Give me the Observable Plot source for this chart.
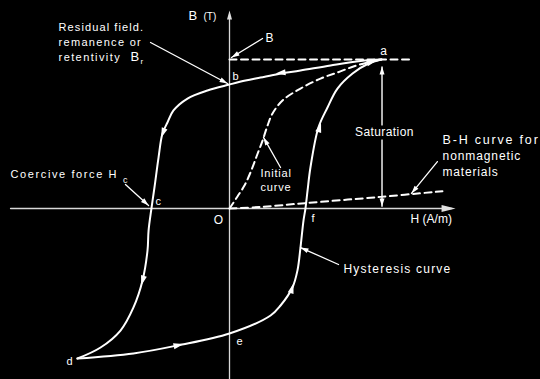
<!DOCTYPE html>
<html><head><meta charset="utf-8">
<script src="https://cdn.jsdelivr.net/npm/d3@7"></script>
<script src="https://cdn.jsdelivr.net/npm/@observablehq/plot@0.6"></script>
<style>
html,body{margin:0;padding:0;background:#000;}
</style></head><body><div id="chart"></div>
<script>
// Hysteresis loop, upper (descending) branch a -> b -> c -> d
const upperH = [100.7, 86.8, 66.9, 47.0, 32.5, 20.5, 10.6, 0, -14.6, -27.8, -37.1, -41.1, -44.4, -47.0, -49.7, -51.7, -53.6, -54.3, -57.6, -63.6, -72.2, -85.4, -100.7];
const upperB = [100, 99.0, 96.0, 92.6, 90.3, 87.9, 85.9, 83.2, 79.2, 73.8, 65.8, 57.7, 50.3, 34.2, 14.1, 0, -14.8, -28.2, -48.3, -66.4, -81.9, -93.3, -100.7];
// lower (ascending) branch d -> e -> f -> a
const lowerH = [-100.7, -63.6, -34.4, 0, 27.2, 33.8, 41.7, 45.0, 47.0, 49.0, 50.3, 51.7, 53.6, 58.9, 64.9, 71.5, 81.5, 92.1, 100.7];
const lowerB = [-100.7, -97.3, -91.9, -83.9, -71.8, -65.1, -53.0, -41.6, -26.2, -8.1, 0, 12.1, 27.5, 54.4, 67.8, 80.5, 90.6, 97.3, 100];
// initial magnetisation curve O -> a
const initH = [0, 5.3, 9.9, 13.9, 17.9, 21.9, 25.2, 28.5, 35.1, 47.0, 60.3, 71.5, 82.1, 91.4, 100.7];
const initB = [0, 8.1, 15.4, 24.2, 34.9, 45.6, 55.7, 63.8, 72.5, 80.5, 87.2, 91.3, 95.3, 98.0, 100];
// B-H curve for nonmagnetic materials
const nonmagH = [0, 20, 50, 100, 141];
const nonmagB = [0, 1.0, 3.6, 7.8, 11.6];
// saturation level
const satH = 101, satB = 100;
const pointLabels = ["a", "b", "c", "d", "e", "f", "O"];

const W = 540, HT = 379;
const xDomain = [-151.66, 205.96], yDomain = [-114.77, 139.6];
const kx = W / (xDomain[1] - xDomain[0]), ky = HT / (yDomain[1] - yDomain[0]);
const zip = (h, b) => h.map((v, i) => ({H: v, B: b[i]}));
const seg = (a, b) => [{H: a[0], B: a[1]}, {H: b[0], B: b[1]}];

function head(from, to, L, w, fill = "white") {
  const dx = (to[0] - from[0]) * kx, dy = -(to[1] - from[1]) * ky;
  const a = Math.atan2(dy, dx), ux = Math.cos(a), uy = Math.sin(a);
  const sym = {draw(ctx) {
    const bx = -ux * L, by = -uy * L, px = -uy * w / 2, py = ux * w / 2;
    ctx.moveTo(0, 0); ctx.lineTo(bx + px, by + py); ctx.lineTo(bx - px, by - py); ctx.closePath();
  }};
  return Plot.dot([{H: to[0], B: to[1]}], {x: "H", y: "B", symbol: sym, fill, r: 5});
}
function leader(from, to, L = 8, w = 5) {
  return [
    Plot.line(seg(from, to), {x: "H", y: "B", stroke: "white", strokeWidth: 1.3}),
    head(from, to, L, w)
  ];
}
const FONT = "Liberation Sans, Arial, sans-serif";
function label(text, H, B, size, anchor = "start", extra = {}) {
  return Plot.text([{H, B, t: text}], {x: "H", y: "B", text: "t", fill: "white", fontSize: size, textAnchor: anchor, fontFamily: FONT, ...extra});
}

const spacing = {"Residual field.": 1.1, "remanence or": 1.3, "retentivity": 1.4, "Coercive force H": 1.6,
  "B-H curve for": 1.8, "nonmagnetic": 0.9, "materials": 0.8, "Saturation": 0.4, "Hysteresis curve": 1.2, "Initial": 0.8, "curve": 0.8};

const svg = Plot.plot({
  width: W, height: HT, margin: 0,
  x: {domain: xDomain, axis: null},
  y: {domain: yDomain, axis: null},
  style: {background: "black", color: "white", fontFamily: FONT},
  marks: [
    // axes
    Plot.line(seg([-145, 0], [147, 0]), {x: "H", y: "B", stroke: "#d8d8d8", strokeWidth: 1.3}),
    head([0, 0], [149.7, 0], 14, 7, "#e0e0e0"),
    Plot.line(seg([0, -114.8], [0, 130]), {x: "H", y: "B", stroke: "#d8d8d8", strokeWidth: 1.3}),
    head([0, 0], [0, 132.9], 9, 5, "#e0e0e0"),
    // dashed lines
    Plot.line(seg([0, satB], [120, satB]), {x: "H", y: "B", stroke: "white", strokeWidth: 2, strokeDasharray: "7,4.5"}),
    Plot.line(zip(initH, initB), {x: "H", y: "B", stroke: "white", strokeWidth: 2, strokeDasharray: "7,4.5", curve: "catmull-rom"}),
    Plot.line(zip(nonmagH, nonmagB), {x: "H", y: "B", stroke: "white", strokeWidth: 2, strokeDasharray: "7,4.5", curve: "catmull-rom"}),
    // hysteresis loop
    Plot.line(zip(upperH, upperB), {x: "H", y: "B", stroke: "white", strokeWidth: 2, curve: "catmull-rom"}),
    Plot.line(zip(lowerH, lowerB), {x: "H", y: "B", stroke: "white", strokeWidth: 2, curve: "catmull-rom"}),
    head([38.4, 91.6], [30.5, 90.6], 10, 6),
    head([-42.5, 55], [-45.3, 47.5], 10, 6),
    head([-56.3, -44], [-58.5, -51.7], 10, 6),
    head([-37.7, -92.6], [-30.5, -90.9], 10, 6),
    head([40.4, -57.0], [42.4, -50.3], 10, 6),
    head([58.9, 51.7], [60.6, 57.7], 10, 6),
    head([90.7, 97.3], [97.4, 99.3], 10, 6),
    // saturation double arrow
    Plot.line(seg([satH, 1.5], [satH, 95]), {x: "H", y: "B", stroke: "white", strokeWidth: 1.4}),
    head([satH, 50], [satH, 95.3], 8, 5),
    head([satH, 50], [satH, 1.3], 8, 5),
    label("Saturation", 102.6, 51.0, 12, "middle", {stroke: "black", strokeWidth: 7}),
    // leaders
    ...leader([-52.3, 111.4], [-1.3, 83.9]),
    ...leader([21.9, 114.1], [1.3, 101.3]),
    ...leader([-68.9, 16.1], [-53.6, 2.0]),
    ...leader([33.8, 27.5], [22.5, 47.7]),
    ...leader([72.2, -37.6], [47.0, -26.2]),
    ...leader([137.7, 31.5], [120.5, 10.1]),
    // texts
    label("B", -27.2, 129.5, 13),
    label("(T)", -17.2, 128.5, 10),
    label("Residual field.", -113.2, 121.5, 11),
    label("remanence or", -113.2, 111.4, 11),
    label("retentivity", -113.2, 101.3, 11),
    label("B", -65.6, 102.0, 13),
    label("r", -58.9, 98.5, 8),
    label("Coercive force H", -145.0, 22.8, 11),
    label("c", -69.0, 19.1, 9, "middle"),
    label("B", 23.8, 114.1, 12),
    label("B-H curve for", 141.1, 46.3, 12.5),
    label("nonmagnetic", 141.1, 34.9, 12),
    label("materials", 141.1, 24.2, 12),
    label("Initial", 20.5, 23.5, 11),
    label("curve", 20.5, 14.1, 11),
    label("H (A/m)", 119.9, -7.4, 12),
    label("Hysteresis curve", 75.5, -40.9, 12),
    label(pointLabels[0], 102.0, 105.4, 12, "middle"),
    label(pointLabels[1], 2.0, 88.6, 11),
    label(pointLabels[2], -49.0, 4.7, 11),
    label(pointLabels[3], -107.9, -102.7, 11),
    label(pointLabels[4], 4.6, -89.3, 11),
    label(pointLabels[5], 54.3, -6.7, 11),
    label(pointLabels[6], -7.3, -8.1, 12, "middle")
  ]
});
d3.select(svg).selectAll("text").each(function () {
  const s = spacing[this.textContent];
  if (s) this.style.letterSpacing = s + "px";
});
document.getElementById("chart").appendChild(svg);
</script></body></html>
